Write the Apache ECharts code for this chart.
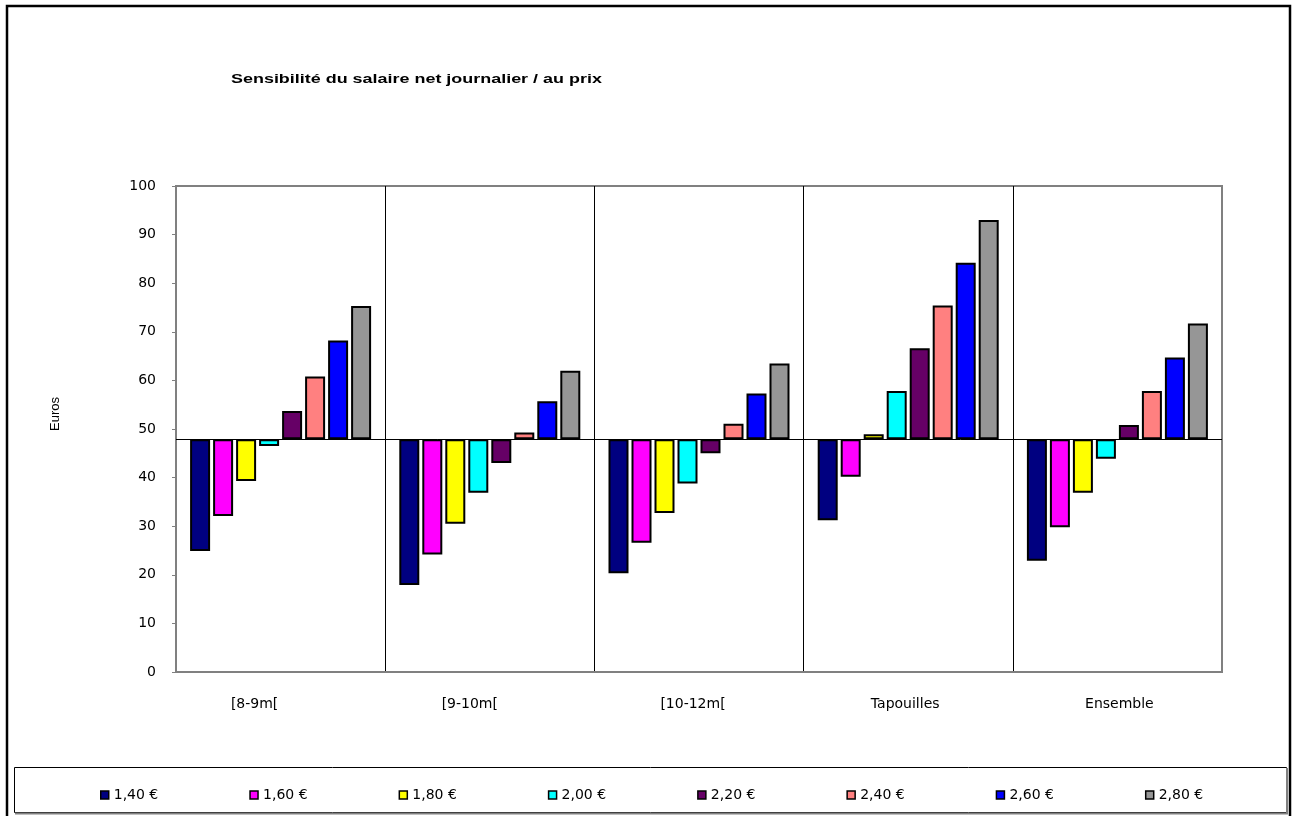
<!DOCTYPE html>
<html>
<head>
<meta charset="utf-8">
<title>Sensibilité du salaire net journalier / au prix</title>
<script src="https://cdn.jsdelivr.net/npm/echarts@6/dist/echarts.min.js"></script>
<style>
  html, body { margin: 0; padding: 0; background: #ffffff; }
  #chart { width: 1295px; height: 816px; }
</style>
</head>
<body>
<div id="chart"></div>
<script>
// Categories (boat sizes + overall) and the net daily wage for each price level
const categories = ['[8-9m[', '[9-10m[', '[10-12m[', 'Tapouilles', 'Ensemble'];
const priceLabels = ['1,40 €', '1,60 €', '1,80 €', '2,00 €', '2,20 €', '2,40 €', '2,60 €', '2,80 €'];
const p140 = [24.9, 17.9, 20.3, 31.2, 22.9];
const p160 = [32.1, 24.2, 26.6, 40.2, 29.8];
const p180 = [39.3, 30.5, 32.7, 48.9, 36.9];
const p200 = [46.5, 36.9, 38.8, 57.8, 43.9];
const p220 = [53.7, 43.0, 45.0, 66.6, 50.8];
const p240 = [60.8, 49.3, 51.1, 75.4, 57.8];
const p260 = [68.2, 55.7, 57.3, 84.2, 64.7];
const p280 = [75.3, 62.0, 63.5, 93.0, 71.7];
// Reference wage level: bars grow up or down from this line
const baseline = 47.9;
const yTicks = { min: 0, max: 100, interval: 10 };

const seriesValues = [p140, p160, p180, p200, p220, p240, p260, p280];
const colors = ['#000080', '#FF00FF', '#FFFF00', '#00FFFF', '#660066', '#FF8080', '#0000FF', '#969696'];
const FONT = '"Liberation Sans", Arial, sans-serif';
const WIDE_FONT = '"DejaVu Sans", "Liberation Sans", sans-serif';
// horizontal nudges of the category labels (px, negative = left)
const labelShift = [-26, -20, -6, -3, 2];

const series = [];
seriesValues.forEach((vals, i) => {
  const stack = 'price' + i;
  // invisible lower part: from 0 up to the bottom of the visible bar
  series.push({
    name: '_base' + i,
    type: 'bar',
    stack: stack,
    barWidth: 20,
    barGap: '15%',
    silent: true,
    itemStyle: { color: 'rgba(0,0,0,0)', borderWidth: 0 },
    emphasis: { disabled: true },
    data: vals.map(v => Math.min(v, baseline))
  });
  // visible part: between the reference line and the value
  const s = {
    name: priceLabels[i],
    type: 'bar',
    stack: stack,
    barWidth: 20,
    barGap: '15%',
    itemStyle: { color: colors[i], borderColor: '#000000', borderWidth: 2 },
    emphasis: { disabled: true },
    data: vals.map(v => Math.abs(v - baseline))
  };
  if (i === 0) {
    s.markLine = {
      silent: true,
      symbol: ['none', 'none'],
      label: { show: false },
      lineStyle: { color: '#000000', width: 1, type: 'solid' },
      data: [{ yAxis: baseline }]
    };
  }
  series.push(s);
});

const richCats = {};
labelShift.forEach((d, i) => {
  richCats['c' + i] = {
    fontFamily: WIDE_FONT, fontSize: 14, color: '#000000',
    padding: d < 0 ? [0, -2 * d, 0, 0] : [0, 0, 0, 2 * d]
  };
});

const chart = echarts.init(document.getElementById('chart'), null, { renderer: 'canvas' });
chart.setOption({
  animation: false,
  backgroundColor: '#ffffff',
  textStyle: { fontFamily: FONT },
  grid: {
    left: 176, top: 186, right: 73, bottom: 144,
    show: true, borderColor: '#808080', borderWidth: 2, backgroundColor: '#ffffff'
  },
  legend: {
    data: priceLabels,
    left: 95,
    top: 783,
    icon: 'rect',
    itemWidth: 8,
    itemHeight: 8,
    itemGap: 91,
    itemStyle: { borderColor: '#000000', borderWidth: 1.5 },
    textStyle: { fontFamily: WIDE_FONT, fontSize: 14, color: '#000000' }
  },
  xAxis: {
    type: 'category',
    data: categories,
    boundaryGap: true,
    axisLine: { show: true, lineStyle: { color: '#808080', width: 2 } },
    axisTick: { show: false },
    axisLabel: {
      color: '#000000', fontSize: 14, fontFamily: WIDE_FONT, margin: 25,
      formatter: (value, idx) => '{c' + idx + '|' + value + '}',
      rich: richCats
    },
    splitLine: {
      show: true,
      lineStyle: { color: ['#808080', '#000000', '#000000', '#000000', '#000000', '#808080'], width: 1 }
    }
  },
  yAxis: {
    type: 'value',
    min: yTicks.min,
    max: yTicks.max,
    interval: yTicks.interval,
    axisLine: { show: true, lineStyle: { color: '#808080', width: 2 } },
    axisTick: { show: true, length: 4, lineStyle: { color: '#808080', width: 1 } },
    axisLabel: { color: '#000000', fontSize: 14, fontFamily: WIDE_FONT, margin: 20 },
    splitLine: { show: false }
  },
  graphic: [
    {
      type: 'rect', silent: true, z: -10,
      shape: { x: 7, y: 6, width: 1283, height: 830 },
      style: { fill: 'none', stroke: '#000000', lineWidth: 2.5 }
    },
    {
      type: 'rect', silent: true, z: -9,
      shape: { x: 14.5, y: 767.5, width: 1272, height: 45 },
      style: { fill: '#ffffff', stroke: '#000000', lineWidth: 1 }
    },
    {
      type: 'polyline', silent: true, z: -8,
      shape: { points: [[1287, 768], [1287, 813.5], [15, 813.5]] },
      style: { fill: 'none', stroke: '#808080', lineWidth: 2 }
    },
    {
      type: 'text', silent: true,
      x: 231, y: 73, scaleX: 1.38,
      style: { text: 'Sensibilité du salaire net journalier / au prix', font: 'bold 13px ' + FONT, fill: '#000000' }
    },
    {
      type: 'text', silent: true,
      x: 48.5, y: 431, rotation: Math.PI / 2,
      style: { text: 'Euros', font: '13px ' + FONT, fill: '#000000' }
    }
  ],
  series: series
});
</script>
</body>
</html>
